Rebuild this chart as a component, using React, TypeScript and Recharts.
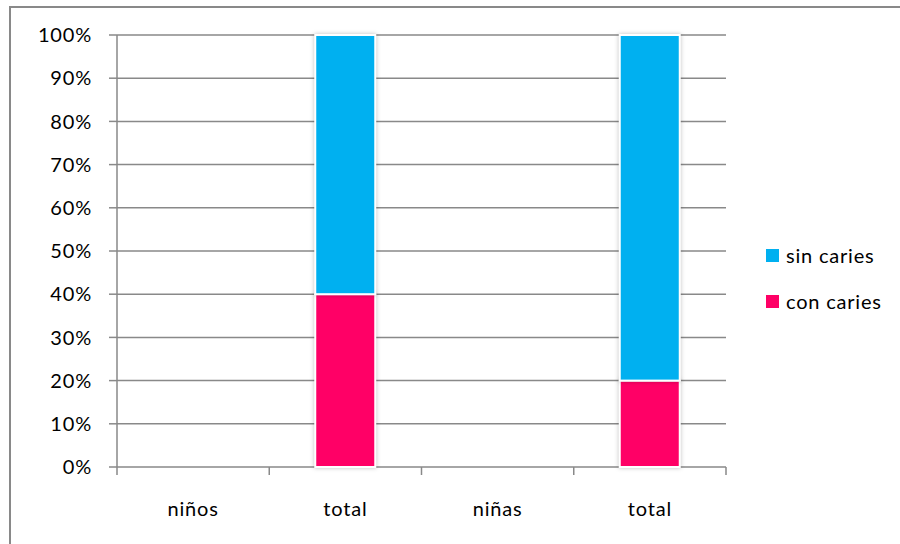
import { BarChart, Bar, XAxis, YAxis, CartesianGrid, Legend } from 'recharts';

// Porcentaje de niños/niñas con y sin caries
const categories = ['niños', 'total', 'niñas', 'total'];
const conCaries: (number | null)[] = [null, 40, null, 20];
const sinCaries: (number | null)[] = [null, 60, null, 80];
const yTicks = [0, 10, 20, 30, 40, 50, 60, 70, 80, 90, 100];

const series = [
  { key: 'sinCaries', label: 'sin caries', color: '#00B0F0' },
  { key: 'conCaries', label: 'con caries', color: '#FF0066' },
];

const data = categories.map((name, i) => ({
  name,
  conCaries: conCaries[i],
  sinCaries: sinCaries[i],
}));

const W = 900;
const H = 544;
const LEGEND_W = 130;
// right margin leaves room for the legend box (Recharts also reserves LEGEND_W)
const MARGIN = { top: 35, right: 174 - LEGEND_W, left: 0, bottom: 0 };
const Y_WIDTH = 117;
const X_HEIGHT = 77;
const FONT = 'Lato, "Open Sans", sans-serif';
const FONT_SIZE = 20;
const SPACING = 0.8;
const GRID = '#898989';

const plotWidth = W - 174 - Y_WIDTH;
const step = plotWidth / categories.length;

function CategoryTick(props: any) {
  const { x, y, payload, index } = props;
  const left = x - step / 2;
  return (
    <g>
      <line x1={left} x2={left} y1={y} y2={y + 8} stroke={GRID} strokeWidth={1.5} />
      {index === categories.length - 1 && (
        <line x1={x + step / 2} x2={x + step / 2} y1={y} y2={y + 8} stroke={GRID} strokeWidth={1.5} />
      )}
      <text
        x={x}
        y={y + 41}
        textAnchor="middle"
        dominantBaseline="central"
        fill="#000"
        fontSize={FONT_SIZE}
        fontFamily={FONT}
        letterSpacing={SPACING}
      >
        {payload.value}
      </text>
    </g>
  );
}

function ShadowBar(props: any) {
  const { x, y, width, height, fill } = props;
  if (!height || height <= 0) return null;
  return (
    <rect
      x={x}
      y={y}
      width={width}
      height={height}
      fill={fill}
      stroke="#ffffff"
      strokeWidth={2}
      style={{ filter: 'drop-shadow(0px 0px 2px rgba(0,0,0,0.25))' }}
    />
  );
}

function LegendBox() {
  return (
    <div style={{ fontFamily: FONT, fontSize: FONT_SIZE, letterSpacing: SPACING, color: '#000' }}>
      {series.map((s) => (
        <div key={s.key} style={{ display: 'flex', alignItems: 'center', height: 46 }}>
          <span style={{ display: 'inline-block', width: 13, height: 13, background: s.color, marginRight: 7 }} />
          {s.label}
        </div>
      ))}
    </div>
  );
}

export default function App() {
  return (
    <div style={{ position: 'absolute', left: 0, top: 0, width: W, height: H, overflow: 'hidden', background: '#fff' }}>
      <div
        style={{
          position: 'absolute',
          left: 9,
          top: 6,
          width: 1000,
          height: 700,
          borderTop: `2px solid ${GRID}`,
          borderLeft: `2px solid ${GRID}`,
        }}
      />
      <div style={{ position: 'absolute', left: 0, top: 0 }}>
        <BarChart width={W} height={H} data={data} margin={MARGIN}>
          <CartesianGrid vertical={false} stroke={GRID} strokeWidth={1.5} />
          <XAxis
            dataKey="name"
            height={X_HEIGHT}
            axisLine={false}
            tickLine={false}
            tickSize={0}
            tickMargin={0}
            interval={0}
            tick={<CategoryTick />}
          />
          <YAxis
            width={Y_WIDTH}
            domain={[0, 100]}
            ticks={yTicks}
            interval={0}
            tickFormatter={(v: number) => `${v}%`}
            axisLine={{ stroke: GRID, strokeWidth: 1.5 }}
            tickLine={{ stroke: GRID, strokeWidth: 1.5 }}
            tickSize={8}
            tickMargin={17}
            tick={{ fill: '#000', fontSize: FONT_SIZE, fontFamily: FONT, letterSpacing: SPACING }}
          />
          <Legend
            layout="vertical"
            align="right"
            verticalAlign="top"
            content={<LegendBox />}
            wrapperStyle={{ position: 'absolute', left: 766, top: 232, width: LEGEND_W }}
          />
          <Bar dataKey="conCaries" name="con caries" stackId="a" fill="#FF0066" barSize={60} shape={<ShadowBar />} isAnimationActive={false} />
          <Bar dataKey="sinCaries" name="sin caries" stackId="a" fill="#00B0F0" barSize={60} shape={<ShadowBar />} isAnimationActive={false} />
        </BarChart>
      </div>
    </div>
  );
}
